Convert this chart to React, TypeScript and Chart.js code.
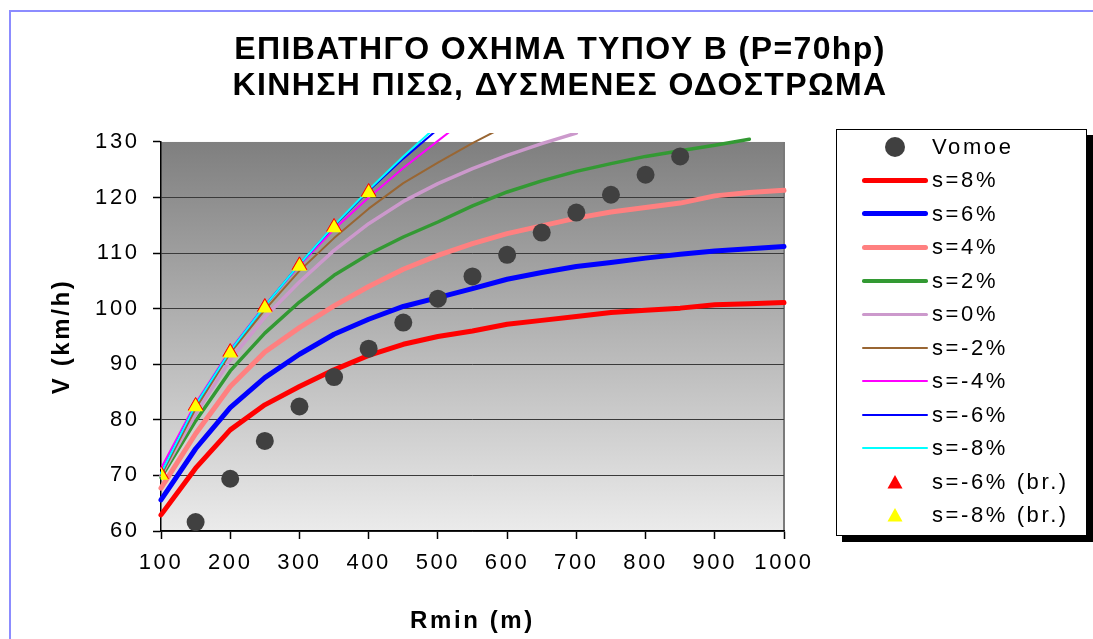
import React, { useEffect, useRef } from "react";
import { Chart, registerables } from "chart.js";

Chart.register(...registerables);

const FONT = "'Liberation Sans', Arial, Helvetica, sans-serif";

const TITLE_LINES = ["ΕΠΙΒΑΤΗΓΟ ΟΧΗΜΑ ΤΥΠΟΥ Β (P=70hp)", "ΚΙΝΗΣΗ ΠΙΣΩ, ΔΥΣΜΕΝΕΣ ΟΔΟΣΤΡΩΜΑ"];
const X_TITLE = "Rmin (m)";
const Y_TITLE = "V (km/h)";

const X_TICKS = [100, 200, 300, 400, 500, 600, 700, 800, 900, 1000];
const Y_TICKS = [60, 70, 80, 90, 100, 110, 120, 130];

// radii (m)
const R_LINE = [100, 150, 200, 250, 300, 350, 400, 450, 500, 550, 600, 650, 700, 750, 800, 850, 900, 950, 1000];
const R_VOMOE = [150, 200, 250, 300, 350, 400, 450, 500, 550, 600, 650, 700, 750, 800, 850];
const R_BRAKE = [100, 150, 200, 250, 300, 350, 400];

// speeds (km/h)
const VOMOE = [61.6, 69.4, 76.2, 82.4, 87.7, 92.8, 97.5, 101.8, 105.8, 109.7, 113.7, 117.3, 120.5, 124.1, 127.4];
const S_P8 = [62.9, 71.3, 78.2, 82.7, 86.0, 89.0, 91.6, 93.6, 95.0, 96.0, 97.2, 97.9, 98.6, 99.3, 99.7, 100.1, 100.7, 100.9, 101.1];
const S_P6 = [65.6, 74.8, 82.2, 87.6, 91.8, 95.4, 98.1, 100.4, 102.0, 103.6, 105.3, 106.5, 107.6, 108.3, 109.1, 109.8, 110.4, 110.8, 111.2];
const S_P4 = [67.7, 77.5, 86.0, 92.2, 96.6, 100.5, 104.0, 107.1, 109.6, 111.7, 113.5, 114.9, 116.3, 117.4, 118.2, 119.0, 120.3, 120.9, 121.3];
const S_P2 = [69.6, 79.8, 88.8, 95.6, 101.2, 106.0, 109.8, 112.9, 115.6, 118.5, 121.0, 123.0, 124.7, 126.1, 127.4, 128.4, 129.4, 130.5];
const S_0 = [70.0, 81.0, 90.8, 98.5, 104.8, 110.5, 115.3, 119.3, 122.5, 125.2, 127.6, 129.7, 131.6];
const S_M2 = [70.0, 82.0, 92.0, 99.8, 106.8, 112.7, 118.0, 122.6, 126.3, 129.8, 133.0];
const S_M4 = [71.3, 83.0, 92.6, 100.6, 107.8, 114.3, 120.0, 125.3, 130.2, 135.0];
const S_M6 = [70.4, 82.7, 92.4, 100.5, 108.0, 114.9, 121.2, 127.0, 132.3];
const S_M8 = [70.4, 82.7, 92.4, 100.5, 108.0, 115.0, 121.4, 127.4, 133.0];
const BR_M6 = [70.2, 82.5, 92.2, 100.3, 107.8, 114.7, 121.0];
const BR_M8 = [70.0, 82.3, 92.0, 100.1, 107.6, 114.5, 120.8];

const LINE_SERIES = [
  { label: "s=8%", values: S_P8, color: "#ff0000", width: 5 },
  { label: "s=6%", values: S_P6, color: "#0000ff", width: 5 },
  { label: "s=4%", values: S_P4, color: "#ff8080", width: 5 },
  { label: "s=2%", values: S_P2, color: "#339933", width: 3.5 },
  { label: "s=0%", values: S_0, color: "#cc99cc", width: 3.5 },
  { label: "s=-2%", values: S_M2, color: "#996633", width: 2 },
  { label: "s=-4%", values: S_M4, color: "#ff00ff", width: 2 },
  { label: "s=-6%", values: S_M6, color: "#0000ff", width: 2 },
  { label: "s=-8%", values: S_M8, color: "#00ffff", width: 2 },
];

const pts = (xs: number[], ys: number[]) => ys.map((y, i) => ({ x: xs[i], y }));

const TEXT_SPACING = "2.6px";
const TITLE_SPACING = "1.4px";

const plotBackground = {
  id: "plotBackground",
  beforeUpdate(chart: any) {
    chart.ctx.letterSpacing = TEXT_SPACING;
  },
  beforeDraw(chart: any) {
    const { ctx, chartArea: a } = chart;
    ctx.letterSpacing = TEXT_SPACING;
    const tb = chart.titleBlock;
    if (tb && !tb.__spaced) {
      const orig = tb.draw.bind(tb);
      tb.draw = (area: any) => {
        const prev = ctx.letterSpacing;
        ctx.letterSpacing = TITLE_SPACING;
        orig(area);
        ctx.letterSpacing = prev;
      };
      tb.__spaced = true;
    }
    ctx.save();
    const g = ctx.createLinearGradient(0, a.top, 0, a.bottom);
    g.addColorStop(0, "#7f7f7f");
    g.addColorStop(1, "#ebebeb");
    ctx.fillStyle = g;
    ctx.fillRect(a.left, a.top, a.right - a.left, a.bottom - a.top);
    ctx.strokeStyle = "#7a7a7a";
    ctx.lineWidth = 2;
    ctx.beginPath();
    ctx.moveTo(a.right, a.top);
    ctx.lineTo(a.right, a.bottom);
    ctx.stroke();
    ctx.restore();
  },
};

export default function App() {
  const ref = useRef<HTMLCanvasElement>(null);

  useEffect(() => {
    const datasets: any[] = [
      {
        label: "Vomoe",
        data: pts(R_VOMOE, VOMOE),
        showLine: false,
        pointStyle: "circle",
        pointRadius: 9,
        pointBackgroundColor: "#404040",
        pointBorderColor: "#404040",
        pointBorderWidth: 0,
        backgroundColor: "#404040",
        borderColor: "#404040",
        order: 2,
      },
      ...LINE_SERIES.map((s, i) => ({
        label: s.label,
        data: pts(R_LINE, s.values),
        borderColor: s.color,
        backgroundColor: s.color,
        borderWidth: s.width,
        pointRadius: 0,
        tension: 0,
        fill: false,
        borderCapStyle: "round",
        borderJoinStyle: "round",
        clip: { left: 8, top: 9, right: 8, bottom: 8 },
        order: 20 - i,
      })),
      {
        label: "s=-6% (br.)",
        data: pts(R_BRAKE, BR_M6),
        showLine: false,
        pointStyle: "triangle",
        pointRadius: 8.5,
        pointBackgroundColor: "#ff0000",
        pointBorderColor: "#ff0000",
        pointBorderWidth: 1,
        backgroundColor: "#ff0000",
        borderColor: "#ff0000",
        order: 1,
      },
      {
        label: "s=-8% (br.)",
        data: pts(R_BRAKE, BR_M8),
        showLine: false,
        pointStyle: "triangle",
        pointRadius: 8.5,
        pointBackgroundColor: "#ffff00",
        pointBorderColor: "#ffff00",
        pointBorderWidth: 0,
        backgroundColor: "#ffff00",
        borderColor: "#ffff00",
        order: 0,
      },
    ];

    const chart = new Chart(ref.current as HTMLCanvasElement, {
      type: "line",
      data: { datasets },
      plugins: [plotBackground],
      options: {
        responsive: false,
        animation: false,
        events: [],
        layout: { padding: { left: 27, top: 0, right: 0, bottom: 0 } },
        plugins: {
          legend: { display: false },
          tooltip: { enabled: false },
          title: {
            display: true,
            text: TITLE_LINES,
            color: "#000",
            font: { family: FONT, size: 32, weight: "bold", lineHeight: 1.14 },
            padding: { top: 31.8, bottom: 37.2 },
          },
        },
        scales: {
          x: {
            type: "linear",
            position: "bottom",
            min: X_TICKS[0],
            max: X_TICKS[X_TICKS.length - 1],
            afterBuildTicks: (s: any) => {
              s.ticks = X_TICKS.map((v) => ({ value: v }));
            },
            afterFit: (s: any) => {
              s.height = 108;
            },
            ticks: {
              color: "#000",
              font: { family: FONT, size: 22 },
              padding: 11,
              maxRotation: 0,
              autoSkip: false,
              callback: (v: any) => String(v),
            },
            grid: { drawOnChartArea: false, drawTicks: true, tickLength: 8, tickColor: "#000", tickWidth: 1.5 },
            border: { color: "#000", width: 1.5 },
            title: {
              display: true,
              text: X_TITLE,
              color: "#000",
              font: { family: FONT, size: 24, weight: "bold", lineHeight: 1.2 },
              padding: { top: 0, bottom: 3.6 },
            },
          },
          y: {
            type: "linear",
            position: "left",
            min: Y_TICKS[0],
            max: Y_TICKS[Y_TICKS.length - 1],
            afterBuildTicks: (s: any) => {
              s.ticks = Y_TICKS.map((v) => ({ value: v }));
            },
            afterFit: (s: any) => {
              s.width = 134;
            },
            ticks: { color: "#000", font: { family: FONT, size: 22 }, padding: 13.4, callback: (v: any) => String(v) },
            grid: {
              color: (c: any) => (c.tick && c.tick.value === Y_TICKS[Y_TICKS.length - 1] ? "rgba(0,0,0,0)" : "#3a3a3a"),
              lineWidth: 1,
              tickLength: 8,
              tickColor: "#000",
              tickWidth: 1.5,
            },
            border: { color: "#000", width: 1.5 },
            title: {
              display: true,
              text: Y_TITLE,
              color: "#000",
              font: { family: FONT, size: 24, weight: "bold", lineHeight: 1.2 },
              padding: { top: 20.6, bottom: 0 },
            },
          },
          yR: {
            type: "linear",
            position: "right",
            display: true,
            grid: { display: false, drawTicks: false },
            border: { display: false },
            ticks: { display: false },
            afterFit: (s: any) => {
              s.width = 309;
            },
          },
        },
      } as any,
    });
    return () => chart.destroy();
  }, []);

  const legendItems: any[] = [
    { label: "Vomoe", kind: "circle", color: "#404040" },
    ...LINE_SERIES.map((s) => ({ label: s.label, kind: "line", color: s.color, width: s.width })),
    { label: "s=-6% (br.)", kind: "tri", color: "#ff0000" },
    { label: "s=-8% (br.)", kind: "tri", color: "#ffff00" },
  ];

  return (
    <div style={{ position: "absolute", left: 0, top: 0, width: 1093, height: 639, overflow: "hidden", background: "#fff" }}>
      <canvas ref={ref} width={1093} height={639} style={{ position: "absolute", left: 0, top: 0 }} />
      <div
        style={{
          position: "absolute",
          left: 9,
          top: 10,
          width: 1084,
          height: 629,
          boxSizing: "border-box",
          borderLeft: "2.5px solid #8c8cff",
          borderTop: "2.5px solid #8c8cff",
          pointerEvents: "none",
        }}
      />
      <div
        style={{
          position: "absolute",
          left: 836,
          top: 129,
          width: 251,
          height: 407,
          boxSizing: "border-box",
          border: "1px solid #000",
          background: "#fff",
          boxShadow: "6px 6px 0 #000",
        }}
      >
        {legendItems.map((it, i) => {
          const cy = 17 + i * 33.45;
          return (
            <div key={i} style={{ position: "absolute", left: 0, top: cy - 15, width: "100%", height: 30 }}>
              {it.kind === "line" && (
                <div
                  style={{
                    position: "absolute",
                    left: 25,
                    top: 15 - it.width / 2,
                    width: 66,
                    height: it.width,
                    background: it.color,
                    borderRadius: it.width / 2,
                  }}
                />
              )}
              {it.kind === "circle" && (
                <div
                  style={{
                    position: "absolute",
                    left: 48,
                    top: 5,
                    width: 20,
                    height: 20,
                    borderRadius: "50%",
                    background: it.color,
                  }}
                />
              )}
              {it.kind === "tri" && (
                <svg width={16} height={14} style={{ position: "absolute", left: 50, top: 8 }}>
                  <polygon points="8,0 15.5,13.5 0.5,13.5" fill={it.color} />
                </svg>
              )}
              <span
                style={{
                  position: "absolute",
                  left: 95,
                  top: 0,
                  lineHeight: "30px",
                  fontFamily: FONT,
                  fontSize: 22,
                  letterSpacing: "2.6px",
                  color: "#000",
                  whiteSpace: "nowrap",
                }}
              >
                {it.label}
              </span>
            </div>
          );
        })}
      </div>
    </div>
  );
}
